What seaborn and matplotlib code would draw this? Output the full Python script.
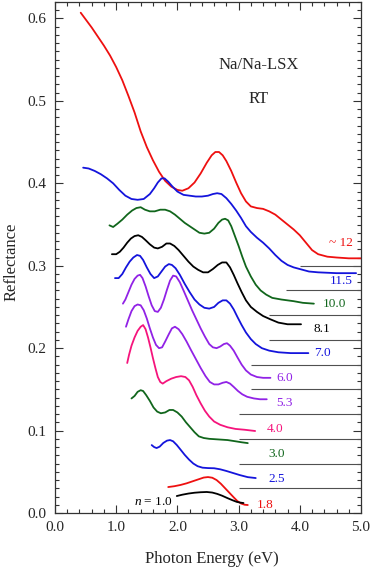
import pandas as pd
import matplotlib
matplotlib.use("Agg")
import matplotlib.pyplot as plt
from matplotlib.ticker import MultipleLocator, FormatStrFormatter
import seaborn as sns

# Na/Na-LSX reflectance spectra at RT, vertically shifted, n = number of Na per cage
e_12 = [0.42, 0.50, 0.60, 0.70, 0.80, 0.90, 1.00, 1.10, 1.20, 1.30, 1.40, 1.50, 1.60, 1.70, 1.80, 1.90,
        2.00, 2.08, 2.18, 2.28, 2.38, 2.48, 2.56, 2.62, 2.68, 2.74, 2.80, 2.88, 2.96, 3.04, 3.12, 3.20,
        3.30, 3.40, 3.50, 3.60, 3.70, 3.80, 3.90, 4.00, 4.10, 4.20, 4.30, 4.45, 4.60, 4.80, 5.00]
r_12 = [0.607, 0.599, 0.589, 0.578, 0.567, 0.555, 0.541, 0.525, 0.506, 0.486, 0.463, 0.444, 0.428, 0.414,
        0.403, 0.396, 0.392, 0.391, 0.394, 0.401, 0.412, 0.425, 0.434, 0.438, 0.438, 0.434, 0.427, 0.415,
        0.401, 0.388, 0.378, 0.372, 0.370, 0.369, 0.366, 0.362, 0.356, 0.350, 0.344, 0.337, 0.328, 0.319,
        0.314, 0.311, 0.310, 0.309, 0.309]

e_115 = [0.46, 0.55, 0.65, 0.75, 0.85, 0.95, 1.05, 1.15, 1.25, 1.35, 1.45, 1.55, 1.62, 1.68, 1.74, 1.79,
         1.85, 1.92, 2.00, 2.10, 2.20, 2.30, 2.40, 2.50, 2.58, 2.65, 2.72, 2.80, 2.88, 2.96, 3.04, 3.12,
         3.20, 3.30, 3.40, 3.50, 3.60, 3.70, 3.80, 3.90, 4.00, 4.15, 4.30, 4.60, 4.92]
r_115 = [0.419, 0.418, 0.415, 0.411, 0.406, 0.400, 0.392, 0.385, 0.381, 0.380, 0.381, 0.387, 0.394, 0.401,
         0.406, 0.406, 0.402, 0.396, 0.390, 0.386, 0.385, 0.384, 0.384, 0.385, 0.387, 0.388, 0.387, 0.382,
         0.375, 0.367, 0.358, 0.348, 0.341, 0.334, 0.328, 0.321, 0.313, 0.306, 0.301, 0.298, 0.296, 0.293,
         0.292, 0.291, 0.291]

e_10 = [0.89, 0.95, 1.02, 1.10, 1.18, 1.26, 1.33, 1.40, 1.47, 1.55, 1.63, 1.72, 1.80, 1.88, 1.96, 2.04,
        2.12, 2.20, 2.28, 2.36, 2.44, 2.52, 2.60, 2.67, 2.73, 2.78, 2.83, 2.88, 2.94, 3.00, 3.06, 3.12,
        3.20, 3.28, 3.36, 3.45, 3.55, 3.70, 3.90, 4.05, 4.23]
r_10 = [0.349, 0.347, 0.351, 0.356, 0.362, 0.367, 0.370, 0.371, 0.368, 0.366, 0.366, 0.368, 0.368, 0.366,
        0.362, 0.357, 0.352, 0.348, 0.344, 0.340, 0.339, 0.340, 0.345, 0.352, 0.356, 0.357, 0.355, 0.348,
        0.336, 0.324, 0.311, 0.299, 0.287, 0.277, 0.270, 0.265, 0.261, 0.259, 0.257, 0.255, 0.254]

e_81 = [0.93, 1.00, 1.06, 1.12, 1.18, 1.24, 1.30, 1.36, 1.42, 1.48, 1.55, 1.62, 1.68, 1.75, 1.82, 1.88,
        1.95, 2.02, 2.10, 2.18, 2.26, 2.34, 2.42, 2.50, 2.58, 2.66, 2.73, 2.80, 2.86, 2.92, 2.98, 3.05,
        3.12, 3.20, 3.30, 3.40, 3.52, 3.65, 3.80, 4.02]
r_81 = [0.314, 0.314, 0.317, 0.322, 0.328, 0.333, 0.336, 0.337, 0.335, 0.331, 0.326, 0.322, 0.321, 0.323,
        0.327, 0.327, 0.324, 0.319, 0.312, 0.305, 0.299, 0.295, 0.292, 0.292, 0.296, 0.301, 0.304, 0.304,
        0.298, 0.289, 0.279, 0.268, 0.258, 0.250, 0.244, 0.239, 0.235, 0.231, 0.229, 0.229]

e_70 = [0.98, 1.04, 1.10, 1.16, 1.22, 1.28, 1.34, 1.39, 1.44, 1.50, 1.56, 1.62, 1.68, 1.74, 1.80, 1.86,
        1.91, 1.97, 2.04, 2.12, 2.20, 2.28, 2.36, 2.44, 2.52, 2.60, 2.67, 2.74, 2.80, 2.86, 2.92, 2.98,
        3.05, 3.12, 3.20, 3.28, 3.38, 3.50, 3.65, 3.85, 4.14]
r_70 = [0.285, 0.285, 0.290, 0.298, 0.305, 0.310, 0.313, 0.312, 0.307, 0.298, 0.290, 0.285, 0.287, 0.293,
        0.299, 0.302, 0.301, 0.297, 0.289, 0.278, 0.268, 0.259, 0.253, 0.249, 0.248, 0.250, 0.255, 0.258,
        0.258, 0.254, 0.247, 0.238, 0.228, 0.219, 0.211, 0.205, 0.200, 0.197, 0.195, 0.194, 0.194]

e_60 = [1.11, 1.15, 1.20, 1.25, 1.30, 1.35, 1.39, 1.43, 1.48, 1.53, 1.58, 1.63, 1.68, 1.73, 1.78, 1.83,
        1.88, 1.93, 1.98, 2.04, 2.10, 2.17, 2.24, 2.31, 2.38, 2.45, 2.52, 2.58, 2.64, 2.70, 2.76, 2.81,
        2.86, 2.92, 2.98, 3.05, 3.12, 3.20, 3.30, 3.40, 3.52]
r_60 = [0.254, 0.259, 0.268, 0.277, 0.284, 0.288, 0.289, 0.285, 0.275, 0.263, 0.252, 0.245, 0.244, 0.249,
        0.259, 0.271, 0.282, 0.288, 0.287, 0.280, 0.270, 0.258, 0.246, 0.235, 0.224, 0.214, 0.205, 0.201,
        0.200, 0.202, 0.205, 0.206, 0.203, 0.197, 0.189, 0.180, 0.173, 0.168, 0.165, 0.164, 0.164]

e_53 = [1.16, 1.20, 1.25, 1.30, 1.35, 1.40, 1.45, 1.50, 1.55, 1.60, 1.65, 1.70, 1.75, 1.80, 1.86, 1.91,
        1.96, 2.02, 2.08, 2.15, 2.22, 2.30, 2.38, 2.46, 2.53, 2.60, 2.67, 2.74, 2.80, 2.86, 2.92, 2.99,
        3.06, 3.14, 3.25, 3.35, 3.46]
r_53 = [0.226, 0.235, 0.245, 0.251, 0.253, 0.252, 0.246, 0.236, 0.224, 0.213, 0.204, 0.200, 0.201, 0.208,
        0.217, 0.224, 0.226, 0.223, 0.217, 0.208, 0.198, 0.187, 0.176, 0.166, 0.159, 0.156, 0.156, 0.158,
        0.159, 0.157, 0.153, 0.148, 0.144, 0.141, 0.139, 0.138, 0.138]

e_40 = [1.18, 1.21, 1.25, 1.30, 1.35, 1.40, 1.44, 1.48, 1.52, 1.56, 1.60, 1.64, 1.68, 1.72, 1.76, 1.82,
        1.90, 1.98, 2.06, 2.13, 2.19, 2.25, 2.31, 2.38, 2.45, 2.52, 2.60, 2.70, 2.82, 2.95, 3.10, 3.27]
r_40 = [0.182, 0.192, 0.203, 0.213, 0.221, 0.226, 0.228, 0.223, 0.213, 0.201, 0.188, 0.176, 0.165, 0.159,
        0.157, 0.160, 0.163, 0.165, 0.166, 0.165, 0.161, 0.153, 0.143, 0.133, 0.124, 0.117, 0.111, 0.107,
        0.104, 0.102, 0.101, 0.0995]

e_30 = [1.25, 1.30, 1.35, 1.40, 1.44, 1.49, 1.55, 1.61, 1.67, 1.73, 1.80, 1.87, 1.93, 2.00, 2.07, 2.14,
        2.21, 2.28, 2.35, 2.43, 2.52, 2.62, 2.72, 2.82, 2.95, 3.05, 3.15]
r_30 = [0.139, 0.142, 0.147, 0.149, 0.148, 0.143, 0.136, 0.128, 0.123, 0.121, 0.122, 0.125, 0.125, 0.122,
        0.117, 0.110, 0.104, 0.098, 0.093, 0.091, 0.0900, 0.0895, 0.0890, 0.0885, 0.087, 0.0858, 0.0848]

e_25 = [1.58, 1.62, 1.66, 1.71, 1.77, 1.83, 1.88, 1.93, 1.99, 2.05, 2.12, 2.19, 2.26, 2.33, 2.41, 2.50,
        2.60, 2.70, 2.80, 2.91, 3.02, 3.15, 3.28]
r_25 = [0.0824, 0.080, 0.0788, 0.0805, 0.085, 0.0878, 0.0885, 0.087, 0.0825, 0.077, 0.0705, 0.0648, 0.060,
        0.0568, 0.0550, 0.0545, 0.0543, 0.053, 0.051, 0.0485, 0.046, 0.0435, 0.0424]

e_18 = [1.85, 1.95, 2.05, 2.15, 2.25, 2.35, 2.43, 2.50, 2.57, 2.64, 2.71, 2.78, 2.85, 2.92, 2.98, 3.04,
        3.10, 3.15]
r_18 = [0.0315, 0.0325, 0.034, 0.036, 0.0385, 0.041, 0.0430, 0.0436, 0.0428, 0.040, 0.0355, 0.030, 0.0245,
        0.019, 0.0145, 0.0115, 0.010, 0.0097]

e_10n = [1.99, 2.08, 2.18, 2.28, 2.38, 2.48, 2.57, 2.65, 2.73, 2.82, 2.90, 2.97, 3.03, 3.08]
r_10n = [0.0206, 0.0222, 0.0236, 0.0246, 0.0252, 0.0255, 0.0248, 0.0232, 0.021, 0.018, 0.0155, 0.0135,
         0.0126, 0.0121]

# curve labels (n) and where they sit
labels = ["~ 12", "11.5", "10.0", "8.1", "7.0", "6.0", "5.3", "4.0", "3.0", "2.5", "1.8", "1.0"]
label_x = [4.48, 4.49, 4.38, 4.22, 4.23, 3.61, 3.61, 3.46, 3.48, 3.48, 3.30, 1.93]
label_y = [0.328, 0.281, 0.253, 0.223, 0.194, 0.164, 0.133, 0.102, 0.072, 0.041, 0.0097, 0.0135]

# zero lines of the shifted spectra
base_y = [0.03, 0.06, 0.09, 0.12, 0.15, 0.18, 0.21, 0.24, 0.27, 0.30]
base_x0 = [3.0, 3.0, 3.0, 3.0, 3.2, 3.2, 3.5, 3.5, 3.77, 4.0]

red = "#ee1010"
blue = "#1414dc"
green = "#11661c"
purple = "#9122e6"
pink = "#f5147c"
colors = [red, blue, green, "black", blue, purple, purple, pink, green, blue, red, "black"]

energies = [e_12, e_115, e_10, e_81, e_70, e_60, e_53, e_40, e_30, e_25, e_18, e_10n]
refl = [r_12, r_115, r_10, r_81, r_70, r_60, r_53, r_40, r_30, r_25, r_18, r_10n]

frames = []
for lab, e, r in zip(labels, energies, refl):
    frames.append(pd.DataFrame({"energy": e, "refl": r, "n": lab}))
df = pd.concat(frames, ignore_index=True)
palette = dict(zip(labels, colors))

sns.set_style("ticks")
plt.rcParams['font.family'] = ['Liberation Serif', 'DejaVu Serif']
plt.rcParams['mathtext.fontset'] = 'custom'
plt.rcParams['mathtext.it'] = 'Liberation Serif:italic'
plt.rcParams['mathtext.rm'] = 'Liberation Serif'

fig = plt.figure(figsize=(3.72, 5.67), dpi=100)
ax = fig.add_axes([55 / 372, 1 - 513 / 567, 306 / 372, 511 / 567])

sns.lineplot(data=df, x="energy", y="refl", hue="n", palette=palette, sort=False,
             estimator=None, legend=False, linewidth=1.3, ax=ax)

ax.hlines(base_y, base_x0, 5.0, colors="#505050", linewidth=0.8)

for i in range(len(labels)):
    if labels[i] == "1.0":
        ax.text(label_x[i], label_y[i], "$n$ = 1.0", color=colors[i], fontsize=9.5,
                ha="right", va="center")
    else:
        ax.text(label_x[i], label_y[i], labels[i], color=colors[i], fontsize=9.5,
                ha="left", va="center")

ax.text(3.33, 0.543, "Na/Na-LSX", fontsize=12, ha="center", va="center")
ax.text(3.33, 0.502, "RT", fontsize=12, ha="center", va="center")

ax.set_xlim(0, 5.0)
ax.set_ylim(0, 0.62)
ax.xaxis.set_major_locator(MultipleLocator(1.0))
ax.xaxis.set_minor_locator(MultipleLocator(0.2))
ax.yaxis.set_major_locator(MultipleLocator(0.1))
ax.yaxis.set_minor_locator(MultipleLocator(0.01))
ax.xaxis.set_major_formatter(FormatStrFormatter("%.1f"))
ax.yaxis.set_major_formatter(FormatStrFormatter("%.1f"))
ax.tick_params(which="both", direction="in", top=True, right=True, width=0.8, color="#333333")
ax.tick_params(which="major", length=6, labelsize=11, pad=6)
ax.tick_params(which="minor", length=3)
for s in ax.spines.values():
    s.set_linewidth(0.9)
    s.set_color("#333333")

ax.set_xlabel("Photon Energy (eV)", fontsize=12)
ax.set_ylabel("Reflectance", fontsize=12)
ax.xaxis.set_label_coords(0.513, -0.075)
ax.yaxis.set_label_coords(-0.115, 0.491)

fig.savefig("out.png", dpi=100)
